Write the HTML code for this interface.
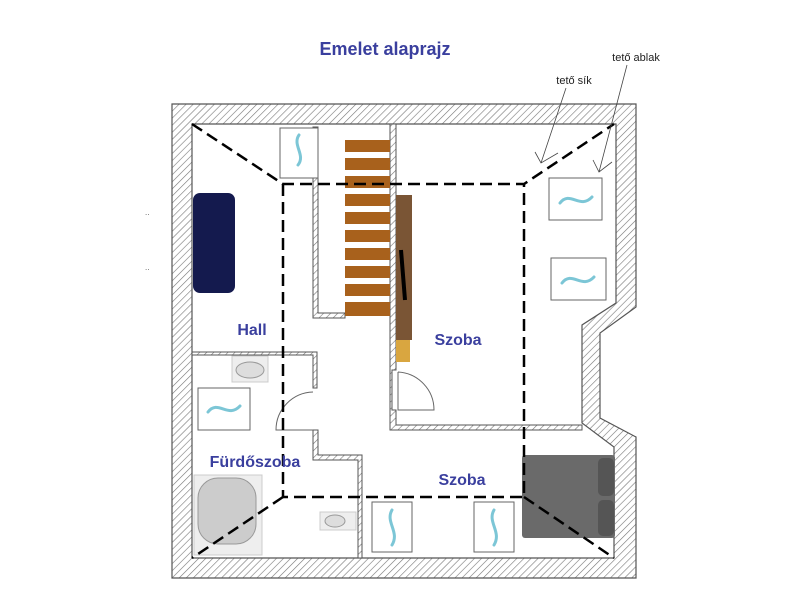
<!DOCTYPE html>
<html><head><meta charset="utf-8"><style>body{margin:0;background:#fff}svg{display:block}</style></head><body>
<svg width="800" height="600" viewBox="0 0 800 600" xmlns="http://www.w3.org/2000/svg" font-family="Liberation Sans, sans-serif">
<defs>
<pattern id="h" width="5" height="5" patternUnits="userSpaceOnUse" patternTransform="rotate(45)"><rect width="5" height="5" fill="#fff"/><line x1="0" y1="0" x2="0" y2="5" stroke="#777" stroke-width="1.2"/></pattern>
</defs>
<text x="385" y="55" text-anchor="middle" font-size="18" font-weight="bold" fill="#3a3f9e">Emelet alaprajz</text>
<path fill="url(#h)" stroke="#555" stroke-width="1.2" fill-rule="evenodd" d="M172 104H636V307L600 333V418L636 437V578H172Z M192 124V558H614V447L582 423V325L616 303V124Z"/>
<!-- interior walls -->
<g fill="url(#h)" stroke="#555" stroke-width="1">
<path d="M313 127H318V313H345V318H313Z"/>
<path d="M390 124H396V370H392V410H396V425H582V430H390Z"/>
<path d="M192 352H317V388H313V355H192Z"/>
<path d="M313 430H318V455H362V558H358V460H313Z"/>
</g>
<!-- stairs -->
<g fill="#a8611c">
<rect x="345" y="140" width="45" height="12"/><rect x="345" y="158" width="45" height="12"/><rect x="345" y="176" width="45" height="12"/><rect x="345" y="194" width="45" height="12"/><rect x="345" y="212" width="45" height="12"/><rect x="345" y="230" width="45" height="12"/><rect x="345" y="248" width="45" height="12"/><rect x="345" y="266" width="45" height="12"/><rect x="345" y="284" width="45" height="12"/><rect x="345" y="302" width="45" height="14"/>
</g>
<rect x="396" y="195" width="16" height="145" fill="#7a5535"/>
<rect x="396" y="340" width="14" height="22" fill="#d9a640"/>
<path d="M401 250L405 300" stroke="#000" stroke-width="4"/>
<!-- doors -->
<path d="M398 372V410H434A38 38 0 0 0 398 372" fill="none" stroke="#666"/>
<path d="M313 392A38 38 0 0 0 276 430H313" fill="none" stroke="#666"/>
<!-- sofa -->
<rect x="193" y="193" width="42" height="100" rx="7" fill="#141a4e"/>
<!-- bed -->
<rect x="522" y="455" width="93" height="83" rx="3" fill="#6a6a6a"/>
<rect x="598" y="458" width="16" height="38" rx="5" fill="#555"/><rect x="598" y="500" width="16" height="36" rx="5" fill="#555"/>
<!-- bath, sinks -->
<rect x="194" y="475" width="68" height="80" fill="#eee" stroke="#ccc"/>
<rect x="198" y="478" width="58" height="66" rx="20" fill="#ccc" stroke="#999"/>
<rect x="232" y="356" width="36" height="26" fill="#eee" stroke="#ccc"/><ellipse cx="250" cy="370" rx="14" ry="8" fill="#ddd" stroke="#999"/>
<rect x="320" y="512" width="36" height="18" fill="#eee" stroke="#ccc"/><ellipse cx="335" cy="521" rx="10" ry="6" fill="#ddd" stroke="#999"/>
<!-- windows -->
<g fill="#fff" stroke="#666">
<rect x="280" y="128" width="38" height="50"/><rect x="549" y="178" width="53" height="42"/><rect x="551" y="258" width="55" height="42"/><rect x="198" y="388" width="52" height="42"/><rect x="372" y="502" width="40" height="50"/><rect x="474" y="502" width="40" height="50"/>
</g>
<g fill="none" stroke="#7cc6d6" stroke-width="3" stroke-linecap="round">
<path d="M299 135C292 145 306 155 298 165"/><path d="M560 203C570 190 580 210 592 197"/><path d="M562 283C572 270 582 290 594 277"/><path d="M208 412C218 399 228 419 240 406"/><path d="M392 510C385 522 400 532 392 545"/><path d="M494 510C487 522 502 532 494 545"/>
</g>
<!-- dashed roof lines -->
<g fill="none" stroke="#000" stroke-width="2.5" stroke-dasharray="12,6">
<path d="M192 124L283 184H524L614 124"/><path d="M283 184V497H524V184"/><path d="M283 497L192 558"/><path d="M524 497L614 558"/>
</g>
<!-- annotations -->
<text x="574" y="84" text-anchor="middle" font-size="11" fill="#222">tető sík</text>
<text x="636" y="61" text-anchor="middle" font-size="11" fill="#222">tető ablak</text>
<g fill="none" stroke="#444" stroke-width="0.8">
<path d="M566 88L541 163M535 152L541 163L558 153"/><path d="M627 65L599 172M593 160L599 172L612 162"/>
</g>
<!-- labels -->
<g font-weight="bold" font-size="16" fill="#3a3f9e" text-anchor="middle">
<text x="252" y="335">Hall</text><text x="458" y="345">Szoba</text><text x="255" y="467">Fürdőszoba</text><text x="462" y="485">Szoba</text>
</g>
<text x="145" y="215" font-size="8" fill="#555">..</text><text x="145" y="270" font-size="8" fill="#555">..</text>
</svg>
</body></html>
